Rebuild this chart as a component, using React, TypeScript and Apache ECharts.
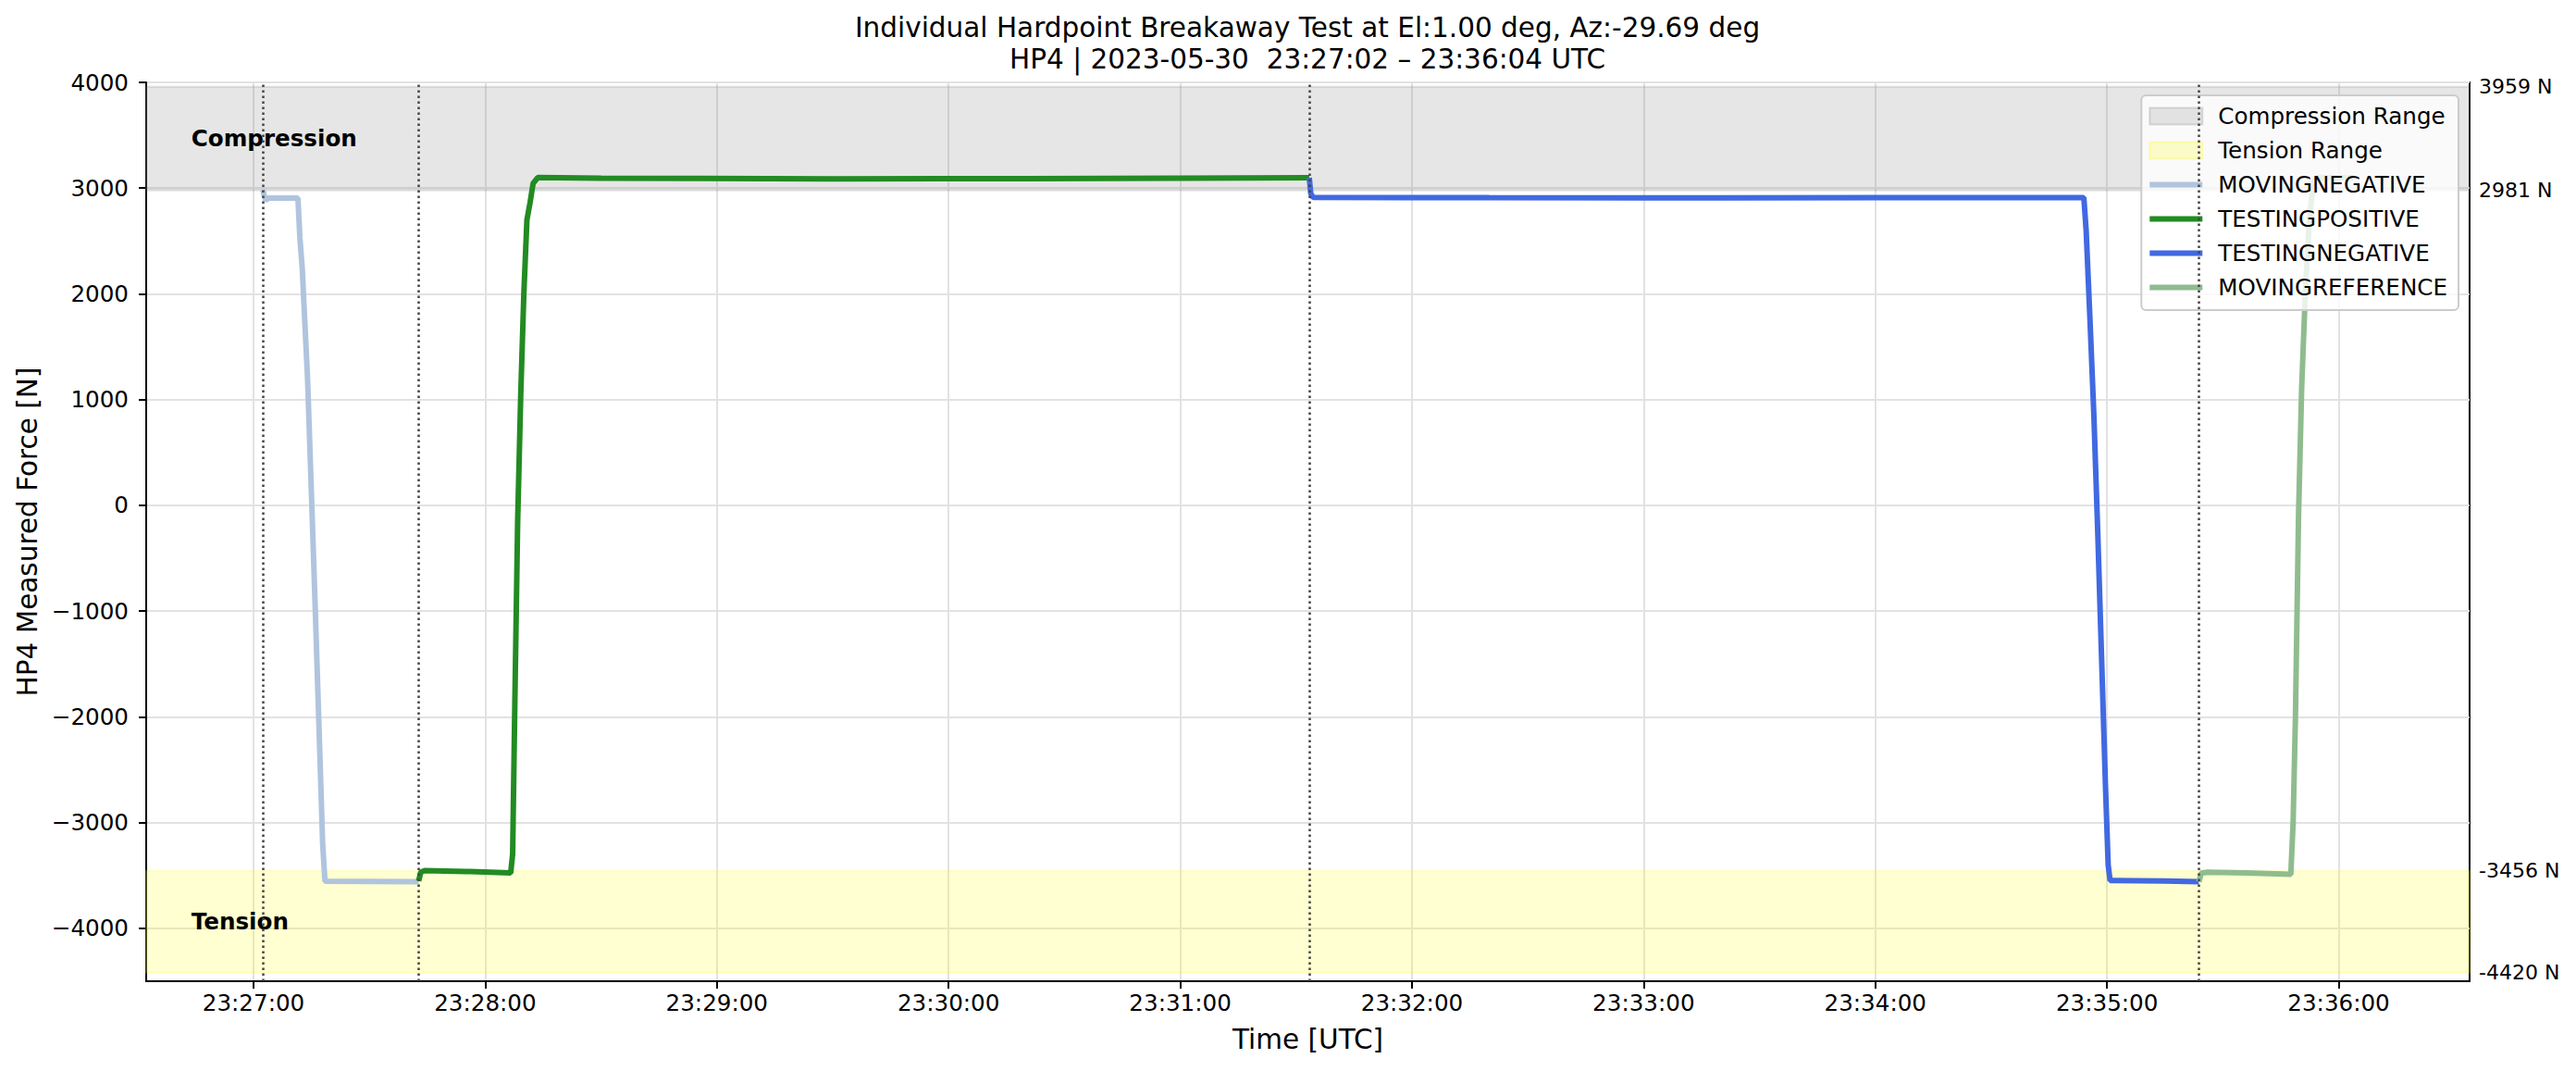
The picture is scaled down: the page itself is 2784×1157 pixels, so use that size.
import React, { useEffect, useRef } from "react";
import * as echarts from "echarts";

// ---- data (x = seconds after 23:27:00 UTC, y = force in N) ----
const BASE_SECONDS = 23 * 3600 + 27 * 60;

const X_TICKS = [0, 60, 120, 180, 240, 300, 360, 420, 480, 540];
const Y_TICKS = [-4000, -3000, -2000, -1000, 0, 1000, 2000, 3000, 4000];
const RANGE_TICKS = [3959, 2981, -3456, -4420];
const COMPRESSION_RANGE = [2981, 3959];
const TENSION_RANGE = [-4420, -3456];
const PHASE_CHANGES = [2.4, 42.75, 273.4, 503.8];

const MOVNEG_T = [2.4, 3.1, 3.8, 11.5, 12.0, 12.6, 14.0, 15.0, 16.0, 17.0, 17.9, 18.5, 30.0, 42.75];
const MOVNEG_V = [2985, 2885, 2905, 2905, 2530, 2250, 1190, 100, -1000, -2150, -3200, -3555, -3556, -3558];

const TESTPOS_T = [42.75, 43.3, 44.2, 55.0, 66.6, 67.1, 67.7, 68.4, 69.2, 70.0, 70.8, 71.6, 72.4, 73.6, 90, 150, 200, 240, 273.4];
const TESTPOS_V = [-3552, -3470, -3455, -3462, -3475, -3300, -1800, -150, 1050, 2000, 2700, 2860, 3045, 3100, 3095, 3088, 3090, 3095, 3098];

const TESTNEG_T = [273.4, 273.8, 274.4, 320, 380, 440, 474.0, 474.6, 475.6, 476.6, 477.6, 478.6, 479.6, 480.3, 480.8, 495, 503.8];
const TESTNEG_V = [3098, 2950, 2912, 2910, 2908, 2910, 2911, 2600, 1750, 850, -250, -1450, -2650, -3400, -3548, -3552, -3560];

const MOVREF_T = [503.8, 504.4, 506, 516, 527.6, 528.2, 528.8, 529.6, 530.4, 531.4, 532.4, 533.4, 534.3, 544.0];
const MOVREF_V = [-3560, -3478, -3470, -3475, -3490, -3000, -2000, -100, 1100, 2050, 2700, 3050, 3100, 3100];

const X_MIN = -27.8;
const X_MAX = 573.9;
const Y_MIN = -4500;
const Y_MAX = 4000;

const FONT = "DejaVu Sans";
const LINE_ICON = "path://M0,0 H57 V6 H0 Z";

const pair = (t: number[], v: number[]) => t.map((x, i) => [x, v[i]]);

const fmtTime = (v: number) => {
  const s = Math.round(BASE_SECONDS + v);
  const h = Math.floor(s / 3600);
  const m = Math.floor((s % 3600) / 60);
  const ss = s % 60;
  const p = (n: number) => String(n).padStart(2, "0");
  return `${p(h)}:${p(m)}:${p(ss)}`;
};

export default function App() {
  const ref = useRef<HTMLDivElement>(null);

  useEffect(() => {
    document.body.style.margin = "0";
    const chart = echarts.init(ref.current!, null, { renderer: "svg" });

    const lineSeries = (name: string, color: string, t: number[], v: number[]) => ({
      name,
      type: "line",
      data: pair(t, v),
      showSymbol: false,
      symbol: "none",
      color,
      itemStyle: { color },
      lineStyle: { color, width: 6 },
      z: 3,
    });

    chart.setOption({
      animation: false,
      backgroundColor: "#ffffff",
      textStyle: { fontFamily: FONT },
      title: {
        text:
          "Individual Hardpoint Breakaway Test at El:1.00 deg, Az:-29.69 deg\nHP4 | 2023-05-30  23:27:02 \u2013 23:36:04 UTC",
        left: 1413,
        top: 13,
        padding: 0,
        textAlign: "center",
        textStyle: {
          fontFamily: FONT,
          fontSize: 29.5,
          fontWeight: "normal",
          color: "#000",
          lineHeight: 34,
        },
      },
      grid: {
        left: 158,
        top: 89,
        width: 2511,
        height: 971,
        show: true,
        borderColor: "#000",
        borderWidth: 2,
        backgroundColor: "transparent",
      },
      legend: {
        orient: "vertical",
        right: 127,
        top: 103,
        itemWidth: 57,
        itemHeight: 18,
        itemGap: 12,
        padding: [10, 12, 12, 8],
        backgroundColor: "rgba(255,255,255,0.8)",
        borderColor: "#cccccc",
        borderWidth: 2,
        borderRadius: 5,
        textStyle: { fontFamily: FONT, fontSize: 24.6, color: "#000", padding: [0, 0, 0, 12] },
        data: [
          {
            name: "Compression Range",
            icon: "rect",
            itemStyle: { color: "rgba(128,128,128,0.2)", borderColor: "rgba(128,128,128,0.25)", borderWidth: 2 },
          },
          {
            name: "Tension Range",
            icon: "rect",
            itemStyle: { color: "rgba(255,255,0,0.2)", borderColor: "rgba(255,255,0,0.25)", borderWidth: 2 },
          },
          { name: "MOVINGNEGATIVE", icon: LINE_ICON, itemStyle: { color: "#B0C4DE" } },
          { name: "TESTINGPOSITIVE", icon: LINE_ICON, itemStyle: { color: "#228B22" } },
          { name: "TESTINGNEGATIVE", icon: LINE_ICON, itemStyle: { color: "#4169E1" } },
          { name: "MOVINGREFERENCE", icon: LINE_ICON, itemStyle: { color: "#8FBC8F" } },
        ],
      },
      xAxis: {
        type: "value",
        min: X_MIN,
        max: X_MAX,
        name: "Time [UTC]",
        nameLocation: "middle",
        nameGap: 48,
        nameTextStyle: { fontFamily: FONT, fontSize: 29.5, color: "#000" },
        axisLine: { show: true, onZero: false, lineStyle: { color: "#000", width: 2 } },
        axisTick: { show: true, length: 8, lineStyle: { color: "#000", width: 2 }, customValues: X_TICKS },
        axisLabel: {
          customValues: X_TICKS,
          formatter: (v: number) => fmtTime(v),
          fontFamily: FONT,
          fontSize: 24.6,
          color: "#000",
          margin: 11,
        },
        splitLine: { show: true, lineStyle: { color: "#e2e2e2", width: 2 } },
      },
      yAxis: [
        {
          type: "value",
          min: Y_MIN,
          max: Y_MAX,
          name: "HP4 Measured Force [N]",
          nameLocation: "middle",
          nameGap: 112,
          nameTextStyle: { fontFamily: FONT, fontSize: 29.5, color: "#000" },
          axisLine: { show: true, onZero: false, lineStyle: { color: "#000", width: 2 } },
          axisTick: { show: true, length: 8, lineStyle: { color: "#000", width: 2 }, customValues: Y_TICKS },
          axisLabel: {
            customValues: Y_TICKS,
            formatter: (v: number) => String(v).replace("-", "\u2212"),
            fontFamily: FONT,
            fontSize: 24.6,
            color: "#000",
            margin: 19,
          },
          splitLine: { show: true, lineStyle: { color: "#e2e2e2", width: 2 } },
        },
        {
          type: "value",
          position: "right",
          min: Y_MIN,
          max: Y_MAX,
          axisLine: { show: false },
          axisTick: { show: false, customValues: RANGE_TICKS },
          axisLabel: {
            customValues: RANGE_TICKS,
            formatter: (v: number) => `${v} N`,
            fontFamily: FONT,
            fontSize: 22,
            color: "#000",
            margin: 10,
          },
          splitLine: { show: false },
        },
      ],
      series: [
        {
          name: "Compression Range",
          type: "line",
          data: [],
          color: "rgba(128,128,128,0.2)",
          z: 1,
          markArea: {
            silent: true,
            itemStyle: { color: "rgba(128,128,128,0.2)", borderColor: "rgba(128,128,128,0.2)", borderWidth: 2.5 },
            label: {
              show: true,
              position: "insideLeft",
              distance: 50,
              fontFamily: FONT,
              fontSize: 24.6,
              fontWeight: "bold",
              color: "#000",
            },
            data: [[{ yAxis: COMPRESSION_RANGE[0], name: "Compression" }, { yAxis: COMPRESSION_RANGE[1] }]],
          },
        },
        {
          name: "Tension Range",
          type: "line",
          data: [],
          color: "rgba(255,255,0,0.2)",
          z: 1,
          markArea: {
            silent: true,
            itemStyle: { color: "rgba(255,255,0,0.18)", borderColor: "rgba(255,255,0,0.18)", borderWidth: 2.5 },
            label: {
              show: true,
              position: "insideLeft",
              distance: 50,
              fontFamily: FONT,
              fontSize: 24.6,
              fontWeight: "bold",
              color: "#000",
            },
            data: [[{ yAxis: TENSION_RANGE[0], name: "Tension" }, { yAxis: TENSION_RANGE[1] }]],
          },
        },
        {
          name: "phases",
          type: "line",
          data: [],
          z: 2,
          markLine: {
            silent: true,
            symbol: "none",
            label: { show: false },
            lineStyle: { color: "#444444", width: 2.5, type: [2.5, 3.5] },
            data: PHASE_CHANGES.map((x) => ({ xAxis: x })),
          },
        },
        lineSeries("MOVINGNEGATIVE", "#B0C4DE", MOVNEG_T, MOVNEG_V),
        lineSeries("TESTINGPOSITIVE", "#228B22", TESTPOS_T, TESTPOS_V),
        lineSeries("TESTINGNEGATIVE", "#4169E1", TESTNEG_T, TESTNEG_V),
        lineSeries("MOVINGREFERENCE", "#8FBC8F", MOVREF_T, MOVREF_V),
      ],
    });

    return () => chart.dispose();
  }, []);

  return <div ref={ref} style={{ width: 2784, height: 1157 }} />;
}
